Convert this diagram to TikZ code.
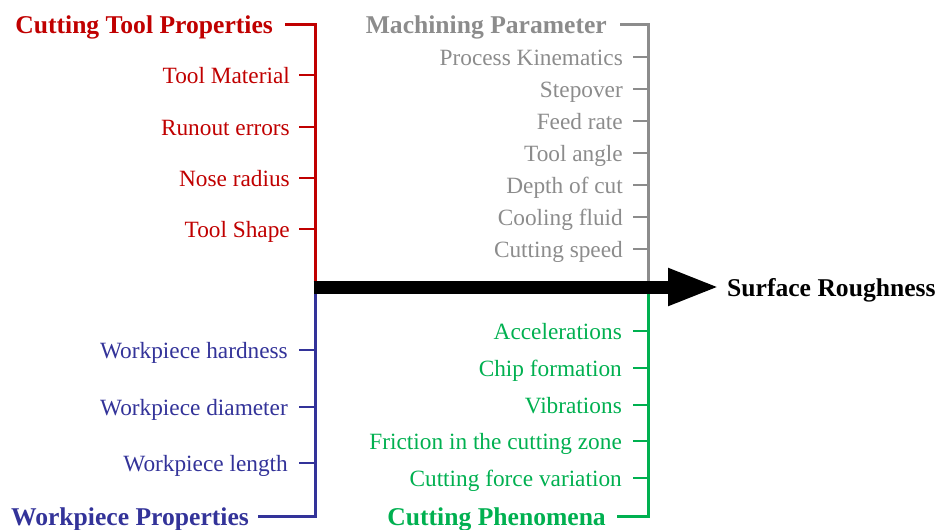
\documentclass[tikz,border=0pt]{standalone}
\usepackage{fontspec}
\setmainfont{Liberation Serif}
\usetikzlibrary{arrows.meta}
\definecolor{cred}{HTML}{C00000}
\definecolor{cgray}{HTML}{8C8C8C}
\definecolor{cblue}{HTML}{333399}
\definecolor{cgreen}{HTML}{00B050}
\begin{document}
\begin{tikzpicture}[x=1pt,y=-1pt,
  item/.style={anchor=base east, inner sep=0pt, font=\fontsize{23.3}{28}\selectfont},
  head/.style={anchor=base east, inner sep=0pt, font=\fontsize{25.6}{30}\selectfont\bfseries},
  spine/.style={line width=3pt, line join=miter},
  tick/.style={line width=2.2pt}]
\useasboundingbox (0,0) rectangle (937,530);
% coordinates of spines
\coordinate (rt) at (315,24);
\coordinate (mid) at (315,287);
\coordinate (bb) at (315,516);
\coordinate (gt) at (648,24);
\coordinate (gm) at (648,287);
\coordinate (pb) at (648,516);
% red: cutting tool properties
\node[head,text=cred] (rh) at (273,33) {Cutting Tool Properties};
\draw[spine,cred] ([xshift=12pt,yshift=9pt]rh.base east) -- (rt) -- (mid);
\foreach \n/\y/\t in {r1/75/Tool Material, r2/127/Runout errors, r3/178/Nose radius, r4/229/Tool Shape}{
  \node[item,text=cred] (\n) at (290,{\y+8}) {\t};
  \draw[tick,cred] ([xshift=9pt,yshift=8pt]\n.base east) -- ([yshift=8pt]\n.base east -| rt);
}
% gray: machining parameter
\node[head,text=cgray] (gh) at (607,33) {Machining Parameter};
\draw[spine,cgray] ([xshift=13pt,yshift=9pt]gh.base east) -- (gt) -- (gm);
\foreach \n/\y/\t in {g1/57/Process Kinematics, g2/89/Stepover, g3/121/Feed rate, g4/153/Tool angle, g5/185/Depth of cut, g6/217/Cooling fluid, g7/249/Cutting speed}{
  \node[item,text=cgray] (\n) at (623,{\y+8}) {\t};
  \draw[tick,cgray] ([xshift=10pt,yshift=8pt]\n.base east) -- ([yshift=8pt]\n.base east -| gt);
}
% blue: workpiece properties
\node[head,text=cblue] (bh) at (249,525) {Workpiece Properties};
\draw[spine,cblue] ([xshift=9pt,yshift=9pt]bh.base east) -- (bb) -- (mid);
\foreach \n/\y/\t in {b1/350/Workpiece hardness, b2/407/Workpiece diameter, b3/463/Workpiece length}{
  \node[item,text=cblue] (\n) at (288,{\y+8}) {\t};
  \draw[tick,cblue] ([xshift=11pt,yshift=8pt]\n.base east) -- ([yshift=8pt]\n.base east -| bb);
}
% green: cutting phenomena
\node[head,text=cgreen] (ph) at (606,525) {Cutting Phenomena};
\draw[spine,cgreen] ([xshift=11pt,yshift=9pt]ph.base east) -- (pb) -- (gm);
\foreach \n/\y/\t in {p1/331/Accelerations, p2/368/Chip formation, p3/405/Vibrations, p4/441/Friction in the cutting zone, p5/478/Cutting force variation}{
  \node[item,text=cgreen] (\n) at (622,{\y+8}) {\t};
  \draw[tick,cgreen] ([xshift=11pt,yshift=8pt]\n.base east) -- ([yshift=8pt]\n.base east -| pb);
}
% main arrow
\node[head,anchor=base west] (sr) at (727,296) {Surface Roughness};
\draw[line width=13pt,-{Triangle[length=52pt,width=34pt]}] ([xshift=-1.5pt]mid) -- ([yshift=9pt,xshift=-7pt]sr.base west);
\end{tikzpicture}
\end{document}
